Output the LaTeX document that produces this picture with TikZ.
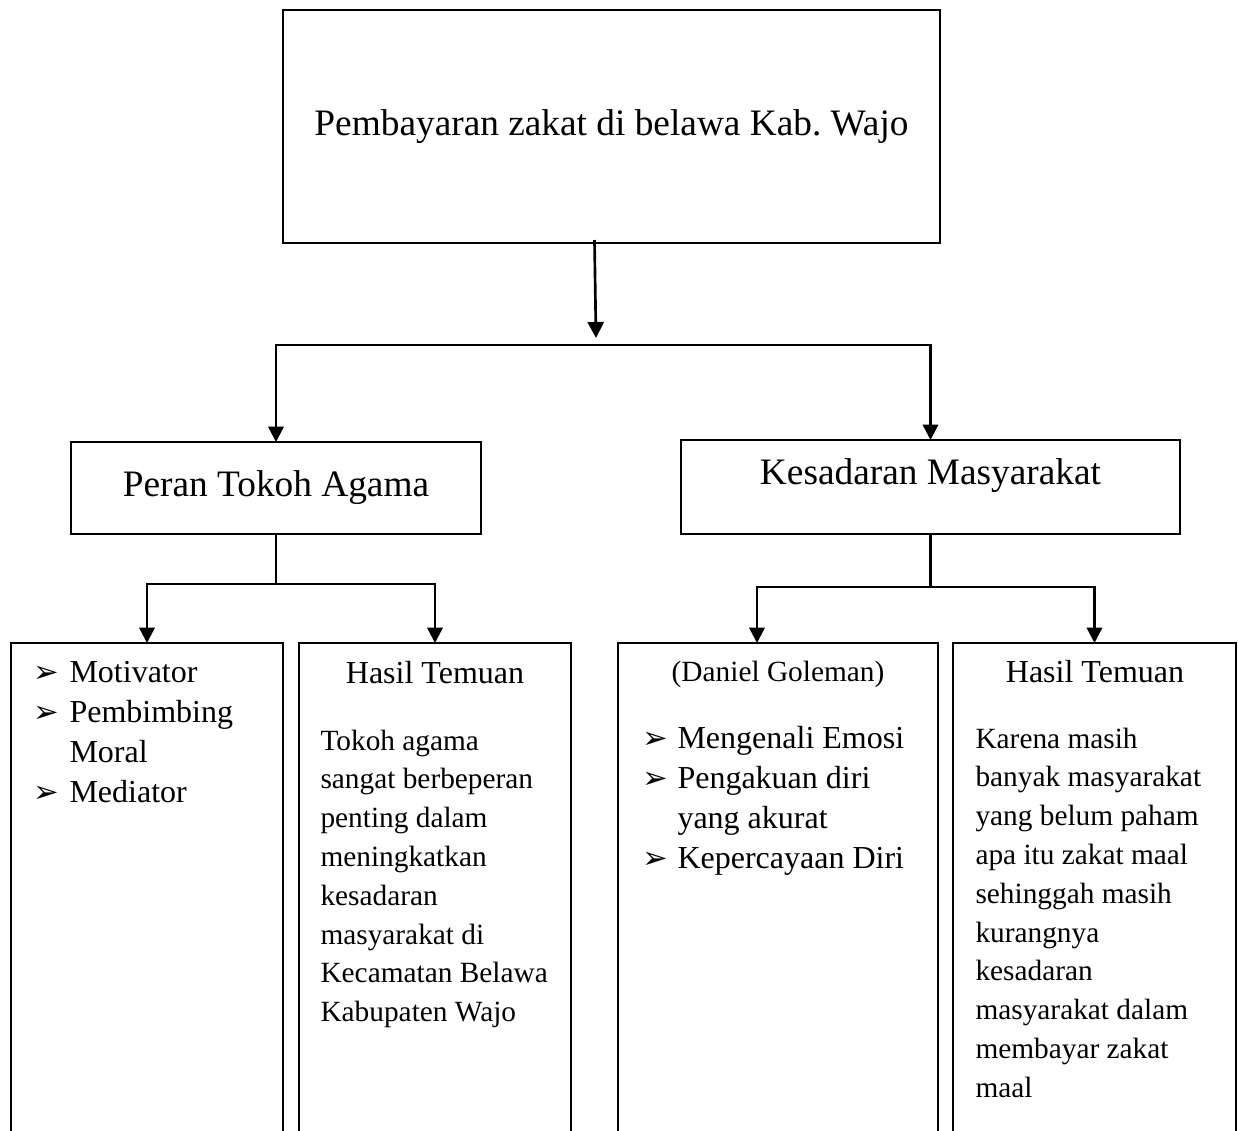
\documentclass[tikz,border=0pt]{standalone}
\usepackage{fontspec}
\setmainfont{Liberation Serif}
\newfontfamily\arrowfont{DejaVu Sans}
\usetikzlibrary{arrows.meta}
\def\px{0.375pt}
\newcommand{\bul}{{\arrowfont\fontsize{11.5}{12}\selectfont ➢}}

\tikzset{
  box/.style={draw, line width=0.5pt, inner sep=0pt, outer sep=0pt},
  lowbox/.style={draw, line width=0.8pt, inner sep=0pt, outer sep=0pt, anchor=north west, minimum height=495*\px},
  head/.style={font=\fontsize{14}{16}\selectfont},
  item/.style={font=\fontsize{12}{14}\selectfont, anchor=base west, inner sep=0pt},
  body/.style={font=\fontsize{11}{13}\selectfont, anchor=base west, inner sep=0pt},
  link/.style={line width=0.9pt},
  tips/.style={link, {Triangle[width=5.8pt,length=5.8pt]}-{Triangle[width=5.8pt,length=5.8pt]}}
}

\begin{document}
\begin{tikzpicture}[x=\px, y=-\px]
        \useasboundingbox (0,0) rectangle (1238,1131);

        % upper boxes
        \node[box, head, minimum width=657*\px, minimum height=233*\px] (zakat) at (611.5,126.5) {Pembayaran zakat di belawa Kab.\ Wajo};
        \node[box, head, minimum width=410*\px, minimum height=92*\px] (peran) at (276,488) {Peran Tokoh Agama};
        \node[box, minimum width=499*\px, minimum height=94*\px] (kesadaran) at (930.5,487) {};
        \node[head] (kesadaranT) at (930.5,476) {Kesadaran Masyarakat};

        % lower boxes
        \node[lowbox, minimum width=272*\px] (peranA) at (11,643) {};
        \node[lowbox, minimum width=272*\px] (temuanA) at (299,643) {};
        \node[lowbox, minimum width=320*\px] (goleman) at (618,643) {};
        \node[lowbox, minimum width=283*\px] (temuanB) at (953,643) {};

        % connectors
        \coordinate (hub) at (595,345);
        \coordinate (hubtip) at (596,338);
        \draw[line width=1pt, -{Triangle[width=6pt,length=6pt]}] ([xshift=-17*\px, yshift=3*\px]zakat.south) -- (hubtip);
        \draw[tips] (peran.north) -- (peran.north |- hub) -- (kesadaran.north |- hub) -- (kesadaran.north);

        \coordinate (hubL) at (276,584);
        \draw[link] (peran.south) -- (peran.south |- hubL);
        \draw[tips] (peranA.north) -- (peranA.north |- hubL) -- (temuanA.north |- hubL) -- (temuanA.north);

        \coordinate (hubR) at (930.5,587);
        \coordinate (golemanIn) at ([xshift=139*\px]goleman.north west);
        \draw[link] (kesadaran.south) -- (kesadaran.south |- hubR);
        \draw[tips] (golemanIn) -- (golemanIn |- hubR) -- (temuanB.north |- hubR) -- (temuanB.north);

        % peran tokoh agama
        \foreach \t/\yy [count=\i] in {Motivator/682, Pembimbing/722, Mediator/802} {
          \node[item] (peranB\i) at (33,\yy) {\bul};
          \node[item] (peranT\i) at (69,\yy) {\t};
        }
        \node[item] (peranT4) at (69,762) {Moral};

        % hasil temuan (kiri)
        \node[item, anchor=base] (temuanAH) at (435,683) {Hasil Temuan};
        \foreach \t [count=\i from 0] in {Tokoh agama, sangat berbeperan, penting dalam, meningkatkan, kesadaran, masyarakat di, Kecamatan Belawa, Kabupaten Wajo}
          \node[body] (temuanA\i) at (320,{750+38.8*\i}) {\t};

        % daniel goleman
        \node[body, anchor=base] (golemanH) at (778,681) {(Daniel Goleman)};
        \foreach \t/\yy [count=\i] in {Mengenali Emosi/748, Pengakuan diri/788, Kepercayaan Diri/868} {
          \node[item] (golemanB\i) at (642,\yy) {\bul};
          \node[item] (golemanT\i) at (677,\yy) {\t};
        }
        \node[item] (golemanT4) at (677,828) {yang akurat};

        % hasil temuan (kanan)
        \node[item, anchor=base] (temuanBH) at (1095,682) {Hasil Temuan};
        \foreach \t [count=\i from 0] in {Karena masih, banyak masyarakat, yang belum paham, apa itu zakat maal, sehinggah masih, kurangnya, kesadaran, masyarakat dalam, membayar zakat, maal}
          \node[body] (temuanB\i) at (975,{748+38.8*\i}) {\t};
\end{tikzpicture}
\end{document}
